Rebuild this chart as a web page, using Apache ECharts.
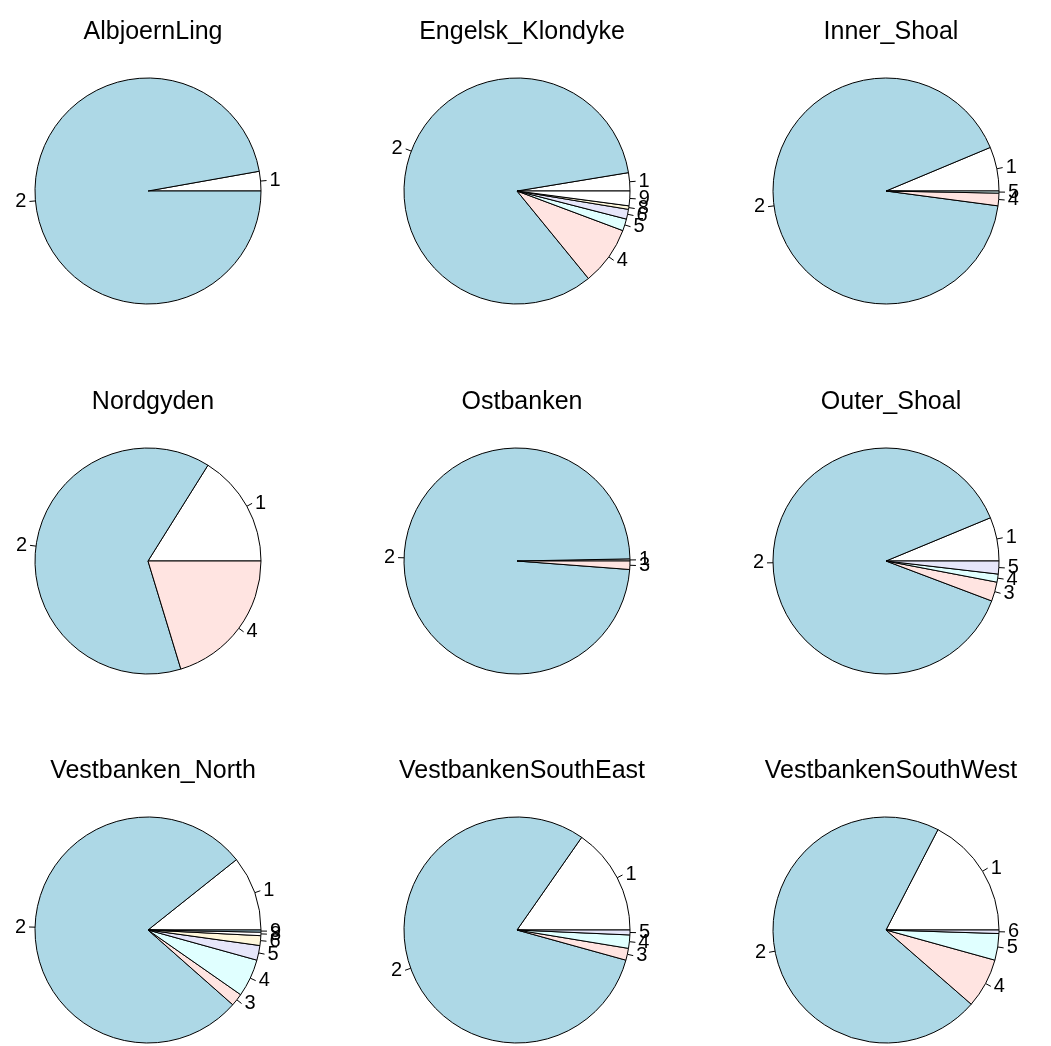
<!DOCTYPE html>
<html>
<head>
<meta charset="utf-8">
<title>Pies par zone</title>
<script src="https://cdn.jsdelivr.net/npm/echarts@6.0.0/dist/echarts.min.js"></script>
<style>
  html, body { margin: 0; padding: 0; background: #fff; }
  #chart { width: 1051px; height: 1046px; }
</style>
</head>
<body>
<div id="chart"></div>
<script>
// Noms des zones (ordre de lecture, ligne par ligne)
const zones = [
  "AlbjoernLing", "Engelsk_Klondyke", "Inner_Shoal",
  "Nordgyden", "Ostbanken", "Outer_Shoal",
  "Vestbanken_North", "VestbankenSouthEast", "VestbankenSouthWest"
];

// Etiquettes des parts, dans l'ordre anti-horaire depuis 3 h
const labelsAlbjoernLing = ["1", "2"];
const labelsEngelsk = ["1", "2", "4", "5", "6", "8", "9"];
const labelsInnerShoal = ["1", "2", "4", "5"];
const labelsNordgyden = ["1", "2", "4"];
const labelsOstbanken = ["1", "2", "3"];
const labelsOuterShoal = ["1", "2", "3", "4", "5"];
const labelsVestNorth = ["1", "2", "3", "4", "5", "6", "8", "9"];
const labelsVestSE = ["1", "2", "3", "4", "5"];
const labelsVestSW = ["1", "2", "4", "5", "6"];

// Parts en %
const valuesAlbjoernLing = [2.8, 97.2];
const valuesEngelsk = [2.6, 83.3, 8.4, 1.7, 1.4, 0.5, 2.1];
const valuesInnerShoal = [6.3, 91.6, 1.8, 0.3];
const valuesNordgyden = [16.1, 63.6, 20.3];
const valuesOstbanken = [0.3, 98.5, 1.2];
const valuesOuterShoal = [6.25, 88, 2.75, 1.15, 1.85];
const valuesVestNorth = [10.7, 77.8, 1.8, 5.4, 2.1, 1.4, 0.5, 0.3];
const valuesVestSE = [15.3, 80.4, 1.7, 1.9, 0.7];
const valuesVestSW = [17.4, 71.2, 7.1, 3.8, 0.5];

const allLabels = [
  labelsAlbjoernLing, labelsEngelsk, labelsInnerShoal,
  labelsNordgyden, labelsOstbanken, labelsOuterShoal,
  labelsVestNorth, labelsVestSE, labelsVestSW
];
const allValues = [
  valuesAlbjoernLing, valuesEngelsk, valuesInnerShoal,
  valuesNordgyden, valuesOstbanken, valuesOuterShoal,
  valuesVestNorth, valuesVestSE, valuesVestSW
];

// Palette par défaut de pie() dans R
const palette = ["#FFFFFF", "#ADD8E6", "#FFE4E1", "#E0FFFF", "#E6E6FA", "#FFF8DC"];

const colX = [148, 517, 886];
const rowY = [191, 561, 930];
const radius = 113;
const font = "'Liberation Sans', Arial, sans-serif";

const titles = [];
const series = [];

zones.forEach((zone, i) => {
  const cx = colX[i % 3];
  const cy = rowY[Math.floor(i / 3)];

  titles.push({
    text: zone,
    left: cx,
    top: cy - 176,
    textAlign: "center",
    textStyle: { fontFamily: font, fontSize: 25, fontWeight: "normal", color: "#000" },
  });

  series.push({
    type: "pie",
    center: [cx, cy],
    radius: radius,
    startAngle: 0,
    clockwise: false,
    avoidLabelOverlap: false,
    minShowLabelAngle: 0,
    animation: false,
    emphasis: { disabled: true },
    itemStyle: { borderColor: "#000", borderWidth: 1 },
    // On garde les étiquettes qui se chevauchent, comme dans R
    labelLayout: { hideOverlap: false },
    label: {
      show: true,
      position: "outside",
      formatter: "{b}",
      fontFamily: font,
      fontSize: 20,
      color: "#000",
      distanceToLabelLine: 3,
    },
    labelLine: {
      show: true,
      length: 6,
      length2: 0,
      lineStyle: { color: "#000", width: 1 },
    },
    data: allValues[i].map((v, k) => ({
      value: v,
      name: allLabels[i][k],
      itemStyle: { color: palette[k % palette.length] },
    })),
  });
});

const chart = echarts.init(document.getElementById("chart"));
chart.setOption({
  backgroundColor: "#fff",
  title: titles,
  tooltip: { show: false },
  series: series,
});
</script>
</body>
</html>
